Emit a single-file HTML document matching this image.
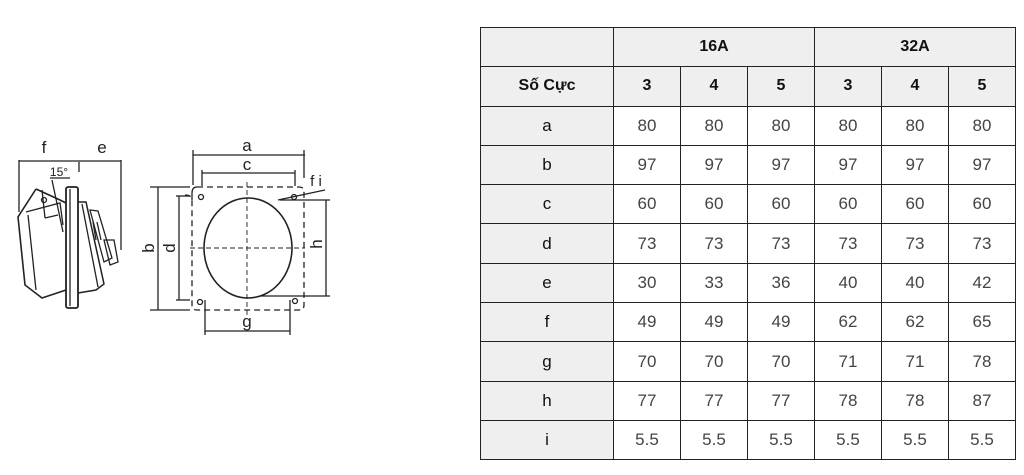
<!DOCTYPE html>
<html><head><meta charset="utf-8"><style>
body{margin:0;width:1024px;height:475px;background:#fff;position:relative;overflow:hidden;font-family:"Liberation Sans","DejaVu Sans",sans-serif}
table{position:absolute;left:480px;top:27px;border-collapse:collapse;}
td{border:1.5px solid #222;height:38.3px;padding:0;text-align:center;font-size:17px;color:#444;width:66px}
td.h{background:#efefef;color:#111;font-weight:bold;font-size:16px}
td.l{background:#efefef;color:#111;width:132px;font-size:17px}
svg{position:absolute;left:0;top:0}
</style></head><body>
<svg width="470" height="475" font-family="Liberation Sans, sans-serif" fill="none" stroke="#222" stroke-width="1.3">
<line x1="19" y1="160" x2="19" y2="212"/><line x1="121" y1="160" x2="121" y2="250"/>
<line x1="19" y1="161" x2="78" y2="161"/><line x1="80" y1="161" x2="121" y2="161"/>
<line x1="79" y1="160" x2="79" y2="172"/>
<line x1="50" y1="178" x2="70" y2="178"/>
<text x="44" y="153" font-size="17" fill="#222" stroke="none" text-anchor="middle">f</text>
<text x="102" y="153" font-size="17" fill="#222" stroke="none" text-anchor="middle">e</text>
<text x="59" y="176" font-size="12" fill="#222" stroke="none" text-anchor="middle">15°</text>
<line x1="52" y1="180" x2="63" y2="232"/>
<rect x="66" y="187" width="12" height="121" rx="2" stroke-width="1.8"/>
<line x1="70" y1="189" x2="70" y2="306"/>
<path d="M36,189 L60,200 L66,203 M36,189 L18,217 L25,285 L42,298 L66,290" stroke-width="1.6"/>
<path d="M28,215 L36,290 M26,212 L60,203 L63,225" />
<circle cx="44" cy="200" r="2.5"/>
<line x1="42" y1="190" x2="45" y2="218"/><line x1="45" y1="218" x2="58" y2="215"/>
<path d="M78,202 L86,202 L104,284 L96,290 L78,293" stroke-width="1.5"/>
<path d="M82,204 L98,287"/>
<path d="M90,210 L98,211 L112,258 L104,262 Z" />
<path d="M93,222 L96,240 M97,222 L101,240"/>
<path d="M104,240 L114,240 L118,262 L110,265 Z"/>
<line x1="193" y1="155" x2="305" y2="155"/><line x1="193" y1="150" x2="193" y2="185"/><line x1="304" y1="150" x2="304" y2="178"/>
<line x1="202" y1="173" x2="295" y2="173"/><line x1="202" y1="170" x2="202" y2="186"/><line x1="295" y1="170" x2="295" y2="186"/>
<text x="247" y="151" font-size="17" fill="#222" stroke="none" text-anchor="middle">a</text>
<text x="247" y="170" font-size="17" fill="#222" stroke="none" text-anchor="middle">c</text>
<path d="M197,187 L299,187 Q304,187 304,192 L304,305 Q304,310 299,310 L197,310 Q192,310 192,305 L192,200 Q192,195 185,195" stroke-dasharray="6,4"/>
<path d="M192,200 L192,193 Q192,187 197,187" />
<line x1="247" y1="182" x2="247" y2="315" stroke-dasharray="5,3" stroke-width="0.9"/>
<line x1="190" y1="248" x2="305" y2="248" stroke-dasharray="5,3" stroke-width="0.9"/>
<ellipse cx="248" cy="248" rx="44" ry="50" stroke-width="1.6"/>
<circle cx="201" cy="197" r="2.5"/><circle cx="200" cy="302" r="2.5"/><circle cx="295" cy="301" r="2.5"/><circle cx="294" cy="197" r="2.5"/>
<line x1="150" y1="187" x2="190" y2="187"/><line x1="150" y1="310" x2="190" y2="310"/>
<line x1="158" y1="187" x2="158" y2="310"/>
<text x="0" y="0" font-size="17" fill="#222" stroke="none" text-anchor="middle" transform="translate(154,248) rotate(-90)">b</text>
<line x1="176" y1="196" x2="190" y2="196"/><line x1="176" y1="300" x2="190" y2="300"/>
<line x1="179" y1="196" x2="179" y2="300"/>
<text x="0" y="0" font-size="17" fill="#222" stroke="none" text-anchor="middle" transform="translate(175,248) rotate(-90)">d</text>
<line x1="280" y1="200" x2="330" y2="200"/><line x1="260" y1="296" x2="330" y2="296"/>
<line x1="326" y1="200" x2="326" y2="296"/>
<text x="0" y="0" font-size="17" fill="#222" stroke="none" text-anchor="middle" transform="translate(322,244) rotate(-90)">h</text>
<line x1="205" y1="300" x2="205" y2="335"/><line x1="290" y1="300" x2="290" y2="335"/>
<line x1="205" y1="331" x2="290" y2="331"/>
<text x="247" y="327" font-size="17" fill="#222" stroke="none" text-anchor="middle">g</text>
<line x1="278" y1="200" x2="325" y2="190"/>
<text x="316" y="186" font-size="15" fill="#222" stroke="none" text-anchor="middle">f i</text>
</svg>
<table>
<tr><td class="l"></td><td class="h" colspan="3">16A</td><td class="h" colspan="3">32A</td></tr>
<tr><td class="l" style="font-weight:bold;font-size:16px">Số Cực</td><td class="h">3</td><td class="h">4</td><td class="h">5</td><td class="h">3</td><td class="h">4</td><td class="h">5</td></tr>
<tr><td class="l">a</td><td>80</td><td>80</td><td>80</td><td>80</td><td>80</td><td>80</td></tr>
<tr><td class="l">b</td><td>97</td><td>97</td><td>97</td><td>97</td><td>97</td><td>97</td></tr>
<tr><td class="l">c</td><td>60</td><td>60</td><td>60</td><td>60</td><td>60</td><td>60</td></tr>
<tr><td class="l">d</td><td>73</td><td>73</td><td>73</td><td>73</td><td>73</td><td>73</td></tr>
<tr><td class="l">e</td><td>30</td><td>33</td><td>36</td><td>40</td><td>40</td><td>42</td></tr>
<tr><td class="l">f</td><td>49</td><td>49</td><td>49</td><td>62</td><td>62</td><td>65</td></tr>
<tr><td class="l">g</td><td>70</td><td>70</td><td>70</td><td>71</td><td>71</td><td>78</td></tr>
<tr><td class="l">h</td><td>77</td><td>77</td><td>77</td><td>78</td><td>78</td><td>87</td></tr>
<tr><td class="l">i</td><td>5.5</td><td>5.5</td><td>5.5</td><td>5.5</td><td>5.5</td><td>5.5</td></tr>
</table>
</body></html>
